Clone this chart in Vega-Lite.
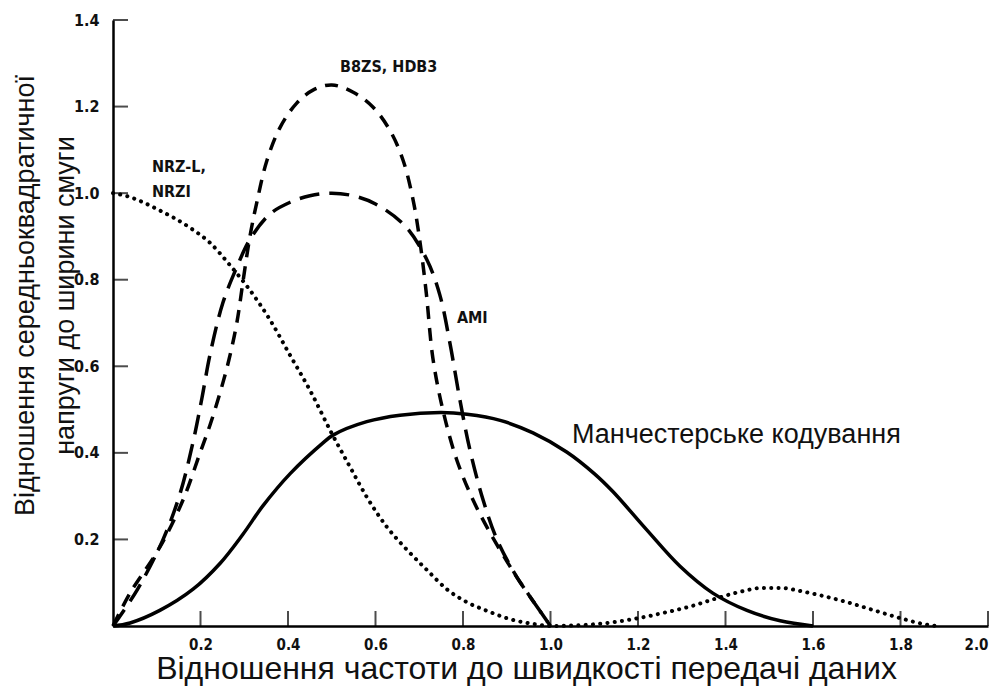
{
  "$schema": "https://vega.github.io/schema/vega-lite/v6.json",
  "width": 875,
  "height": 606,
  "autosize": "none",
  "padding": {"left": 113, "top": 20, "right": 16, "bottom": 62},
  "background": "white",
  "config": {"view": {"stroke": null}},
  "datasets": {
    "nrz": [
      {"x": 0, "y": 1.0}, {"x": 0.032, "y": 0.993}, {"x": 0.107, "y": 0.96}, {"x": 0.176, "y": 0.92},
      {"x": 0.222, "y": 0.885}, {"x": 0.267, "y": 0.834}, {"x": 0.313, "y": 0.776}, {"x": 0.359, "y": 0.707},
      {"x": 0.405, "y": 0.625}, {"x": 0.45, "y": 0.545}, {"x": 0.5, "y": 0.445}, {"x": 0.542, "y": 0.367},
      {"x": 0.58, "y": 0.298}, {"x": 0.626, "y": 0.229}, {"x": 0.672, "y": 0.176}, {"x": 0.718, "y": 0.129},
      {"x": 0.763, "y": 0.085}, {"x": 0.809, "y": 0.055}, {"x": 0.855, "y": 0.035}, {"x": 0.914, "y": 0.014},
      {"x": 0.96, "y": 0.005}, {"x": 1.0, "y": 0.0}, {"x": 1.1, "y": 0.004}, {"x": 1.2, "y": 0.018},
      {"x": 1.257, "y": 0.03}, {"x": 1.319, "y": 0.045}, {"x": 1.38, "y": 0.064}, {"x": 1.433, "y": 0.079},
      {"x": 1.486, "y": 0.088}, {"x": 1.525, "y": 0.088}, {"x": 1.57, "y": 0.081}, {"x": 1.616, "y": 0.071},
      {"x": 1.678, "y": 0.055}, {"x": 1.737, "y": 0.037}, {"x": 1.8, "y": 0.018}, {"x": 1.86, "y": 0.003},
      {"x": 1.88, "y": 0.0}
    ],
    "manch": [
      {"x": 0, "y": 0}, {"x": 0.039, "y": 0.007}, {"x": 0.107, "y": 0.036}, {"x": 0.183, "y": 0.085},
      {"x": 0.245, "y": 0.145}, {"x": 0.297, "y": 0.212}, {"x": 0.343, "y": 0.278}, {"x": 0.405, "y": 0.352},
      {"x": 0.48, "y": 0.423}, {"x": 0.503, "y": 0.441}, {"x": 0.58, "y": 0.472}, {"x": 0.656, "y": 0.487},
      {"x": 0.75, "y": 0.493}, {"x": 0.809, "y": 0.489}, {"x": 0.885, "y": 0.475}, {"x": 0.96, "y": 0.446},
      {"x": 1.037, "y": 0.402}, {"x": 1.1, "y": 0.352}, {"x": 1.143, "y": 0.31}, {"x": 1.22, "y": 0.222},
      {"x": 1.296, "y": 0.138}, {"x": 1.371, "y": 0.076}, {"x": 1.449, "y": 0.036}, {"x": 1.525, "y": 0.012},
      {"x": 1.6, "y": 0.0}
    ],
    "ami": [
      {"x": 0, "y": 0}, {"x": 0.055, "y": 0.083}, {"x": 0.114, "y": 0.199}, {"x": 0.153, "y": 0.305},
      {"x": 0.183, "y": 0.425}, {"x": 0.203, "y": 0.525}, {"x": 0.222, "y": 0.628}, {"x": 0.251, "y": 0.746},
      {"x": 0.283, "y": 0.829}, {"x": 0.313, "y": 0.893}, {"x": 0.359, "y": 0.952}, {"x": 0.405, "y": 0.979},
      {"x": 0.45, "y": 0.994}, {"x": 0.5, "y": 1.0}, {"x": 0.549, "y": 0.994}, {"x": 0.6, "y": 0.975},
      {"x": 0.667, "y": 0.925}, {"x": 0.718, "y": 0.845}, {"x": 0.747, "y": 0.765}, {"x": 0.77, "y": 0.654},
      {"x": 0.793, "y": 0.522}, {"x": 0.816, "y": 0.406}, {"x": 0.846, "y": 0.291}, {"x": 0.878, "y": 0.199},
      {"x": 0.923, "y": 0.113}, {"x": 0.96, "y": 0.058}, {"x": 1.0, "y": 0.0}
    ],
    "b8zs": [
      {"x": 0, "y": 0}, {"x": 0.039, "y": 0.076}, {"x": 0.107, "y": 0.182}, {"x": 0.16, "y": 0.291},
      {"x": 0.199, "y": 0.4}, {"x": 0.222, "y": 0.465}, {"x": 0.245, "y": 0.54}, {"x": 0.265, "y": 0.615},
      {"x": 0.283, "y": 0.7}, {"x": 0.297, "y": 0.795}, {"x": 0.313, "y": 0.9}, {"x": 0.329, "y": 0.98},
      {"x": 0.352, "y": 1.076}, {"x": 0.382, "y": 1.152}, {"x": 0.42, "y": 1.208}, {"x": 0.457, "y": 1.238},
      {"x": 0.5, "y": 1.25}, {"x": 0.549, "y": 1.233}, {"x": 0.594, "y": 1.199}, {"x": 0.633, "y": 1.145},
      {"x": 0.663, "y": 1.076}, {"x": 0.686, "y": 0.984}, {"x": 0.702, "y": 0.885}, {"x": 0.716, "y": 0.77},
      {"x": 0.731, "y": 0.62}, {"x": 0.754, "y": 0.499}, {"x": 0.786, "y": 0.383}, {"x": 0.823, "y": 0.291},
      {"x": 0.862, "y": 0.215}, {"x": 0.9, "y": 0.15}, {"x": 0.923, "y": 0.113}, {"x": 0.96, "y": 0.058},
      {"x": 1.0, "y": 0.0}
    ],
    "xticks": [{"v": 0.2}, {"v": 0.4}, {"v": 0.6}, {"v": 0.8}, {"v": 1.0}, {"v": 1.2}, {"v": 1.4}, {"v": 1.6}, {"v": 1.8}, {"v": 2.0}],
    "yticks": [{"v": 0.2}, {"v": 0.4}, {"v": 0.6}, {"v": 0.8}, {"v": 1.0}, {"v": 1.2}, {"v": 1.4}],
    "labels": [
      {"t": "B8ZS, HDB3", "x": 0.519, "y": 1.291},
      {"t": "NRZ-L,", "x": 0.089, "y": 1.06},
      {"t": "NRZI", "x": 0.089, "y": 1.002},
      {"t": "AMI", "x": 0.786, "y": 0.711}
    ],
    "labels2": [
      {"t": "Манчестерське кодування", "x": 1.049, "y": 0.441}
    ]
  },
  "layer": [
    {
      "data": {"name": "nrz"},
      "mark": {"type": "line", "color": "black", "strokeWidth": 4, "strokeCap": "round", "strokeDash": [0.1, 7.2], "interpolate": "monotone"},
      "encoding": {
        "x": {"field": "x", "type": "quantitative", "scale": {"domain": [0, 2], "nice": false},
          "axis": {"values": [0, 0.2, 0.4, 0.6, 0.8, 1.0, 1.2, 1.4, 1.6, 1.8, 2.0], "labelExpr": "datum.value == 0 ? '' : format(datum.value, '.1f')",
            "grid": false, "domainColor": "black", "domainWidth": 2.5, "ticks": false,
            "labelPadding": 11, "labelFont": "DejaVu Sans Condensed, Liberation Sans, sans-serif", "labelFontWeight": "bold", "labelFontSize": 15, "labelColor": "#111",
            "title": "Відношення частоти до швидкості передачі даних", "titleFont": "Liberation Sans", "titleFontWeight": "normal",
            "titleFontSize": 32, "titleColor": "#111", "titleX": 413, "titleY": 52, "titleBaseline": "alphabetic"}},
        "y": {"field": "y", "type": "quantitative", "scale": {"domain": [0, 1.4], "nice": false},
          "axis": {"values": [0, 0.2, 0.4, 0.6, 0.8, 1.0, 1.2, 1.4], "labelExpr": "datum.value == 0 ? '' : format(datum.value, '.1f')",
            "grid": false, "domainColor": "black", "domainWidth": 2.5, "ticks": false,
            "labelPadding": 14, "labelFont": "DejaVu Sans Condensed, Liberation Sans, sans-serif", "labelFontWeight": "bold", "labelFontSize": 16, "labelColor": "#111",
            "title": ["Відношення середньоквадратичної", "напруги до ширини смуги"], "titleFont": "Liberation Sans", "titleFontWeight": "normal",
            "titleFontSize": 27, "titleColor": "#111", "titleX": -88, "titleY": 275, "titleBaseline": "middle", "titleLineHeight": 40}}
      }
    },
    {
      "data": {"name": "xticks"},
      "mark": {"type": "tick", "color": "black", "thickness": 2, "size": 15, "orient": "vertical", "yOffset": -7.5},
      "encoding": {"x": {"field": "v", "type": "quantitative"}, "y": {"datum": 0}}
    },
    {
      "data": {"name": "yticks"},
      "mark": {"type": "tick", "color": "black", "thickness": 2, "size": 15, "orient": "horizontal", "xOffset": 7.5},
      "encoding": {"y": {"field": "v", "type": "quantitative"}, "x": {"datum": 0}}
    },
    {
      "data": {"name": "manch"},
      "mark": {"type": "line", "color": "black", "strokeWidth": 3.5, "interpolate": "catmull-rom"},
      "encoding": {"x": {"field": "x", "type": "quantitative"}, "y": {"field": "y", "type": "quantitative"}}
    },
    {
      "data": {"name": "ami"},
      "mark": {"type": "line", "color": "black", "strokeWidth": 3.5, "strokeDash": [20, 10], "interpolate": "catmull-rom"},
      "encoding": {"x": {"field": "x", "type": "quantitative"}, "y": {"field": "y", "type": "quantitative"}}
    },
    {
      "data": {"name": "b8zs"},
      "mark": {"type": "line", "color": "black", "strokeWidth": 3.5, "strokeDash": [13, 9], "interpolate": "catmull-rom"},
      "encoding": {"x": {"field": "x", "type": "quantitative"}, "y": {"field": "y", "type": "quantitative"}}
    },
    {
      "data": {"name": "labels"},
      "mark": {"type": "text", "align": "left", "baseline": "middle", "font": "DejaVu Sans Condensed, Liberation Sans, sans-serif", "fontWeight": "bold", "fontSize": 16, "color": "#111"},
      "encoding": {"x": {"field": "x", "type": "quantitative"}, "y": {"field": "y", "type": "quantitative"}, "text": {"field": "t"}}
    },
    {
      "data": {"name": "labels2"},
      "mark": {"type": "text", "align": "left", "baseline": "middle", "font": "Liberation Sans", "fontSize": 27, "color": "#111"},
      "encoding": {"x": {"field": "x", "type": "quantitative"}, "y": {"field": "y", "type": "quantitative"}, "text": {"field": "t"}}
    }
  ]
}
